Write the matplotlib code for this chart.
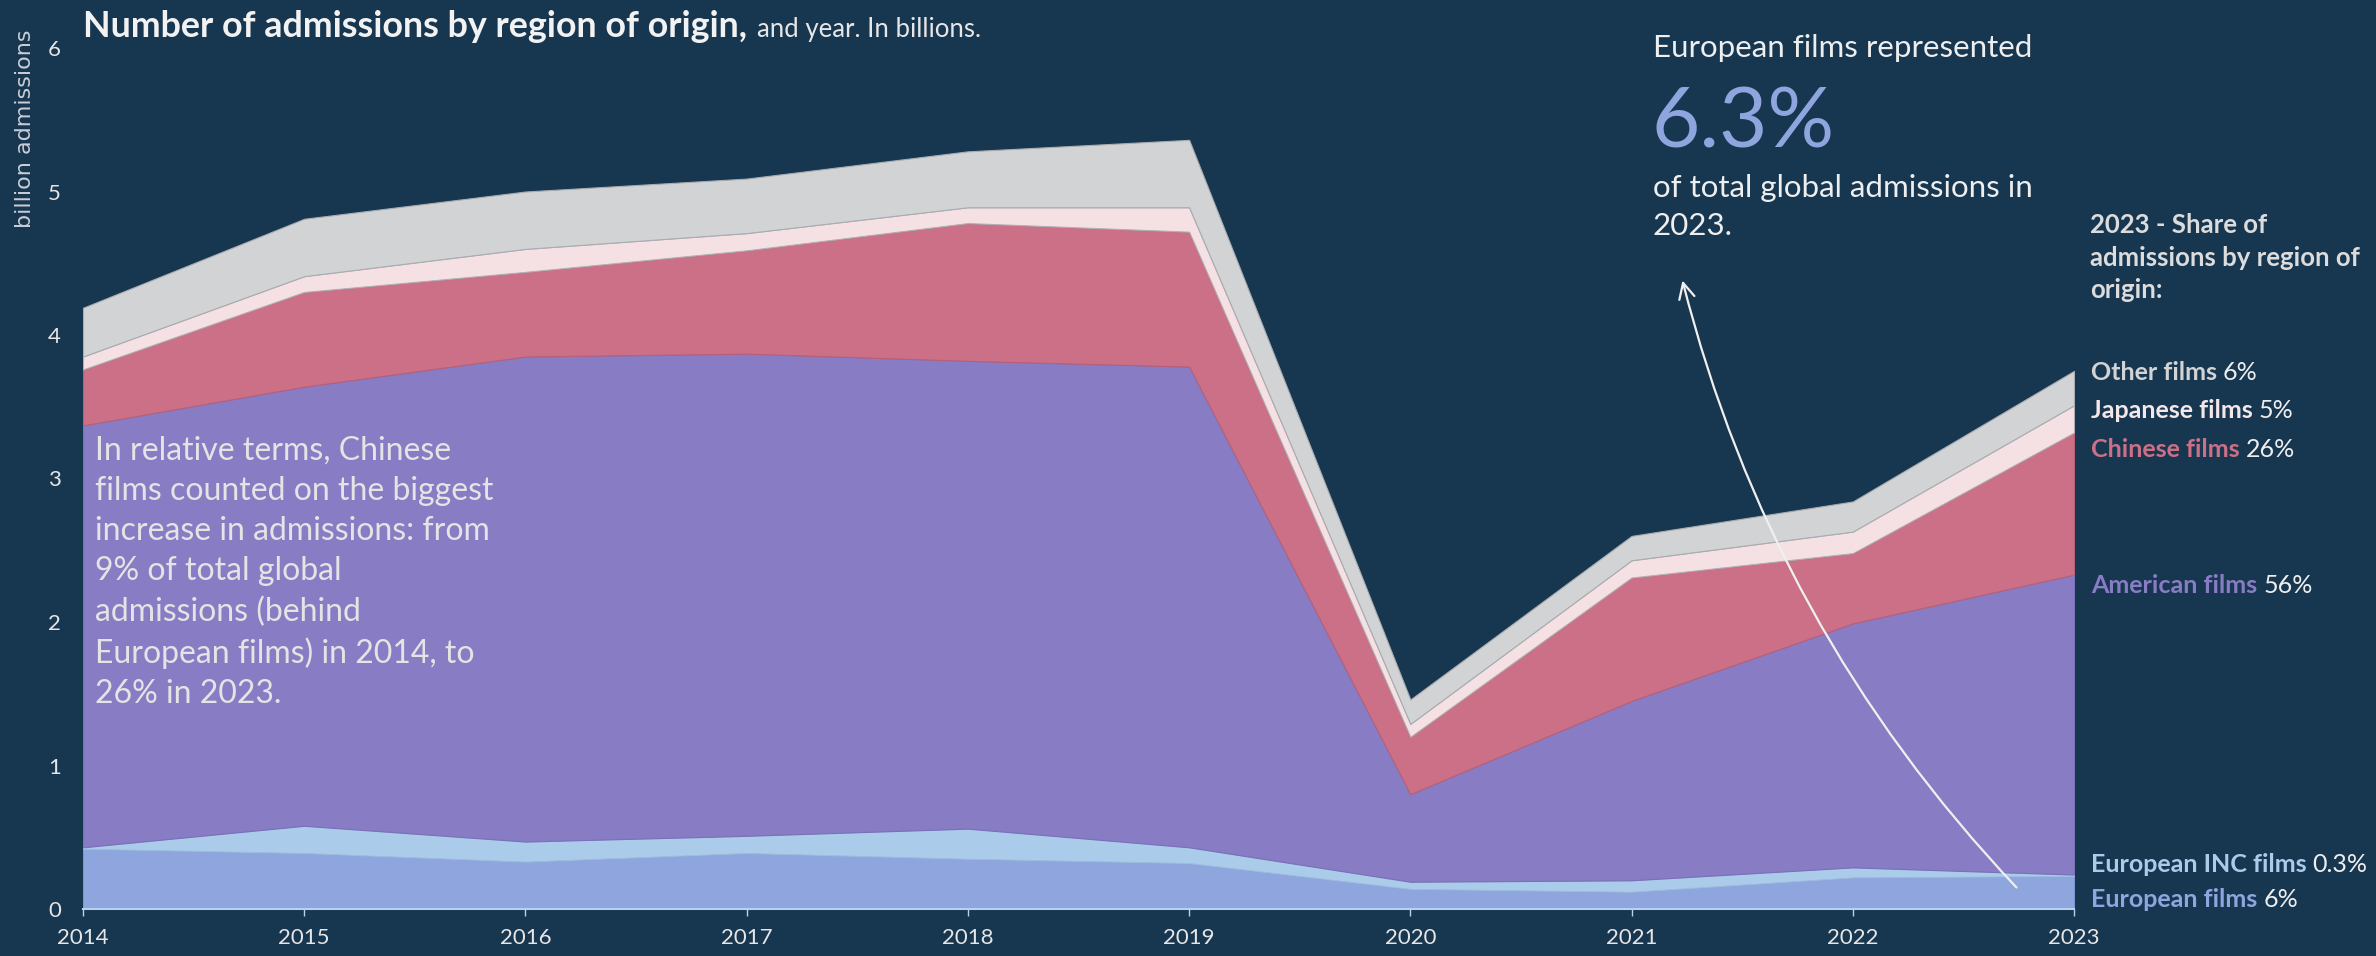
import matplotlib
matplotlib.use('Agg')
import matplotlib.pyplot as plt
import numpy as np

# Data (billions of admissions)
years = [2014, 2015, 2016, 2017, 2018, 2019, 2020, 2021, 2022, 2023]
european = [0.42, 0.39, 0.33, 0.39, 0.35, 0.32, 0.14, 0.12, 0.22, 0.23]
european_inc = [0.01, 0.19, 0.14, 0.12, 0.21, 0.11, 0.05, 0.08, 0.07, 0.01]
american = [2.94, 3.06, 3.38, 3.36, 3.26, 3.35, 0.61, 1.25, 1.70, 2.09]
chinese = [0.39, 0.66, 0.59, 0.72, 0.96, 0.94, 0.40, 0.86, 0.49, 0.99]
japanese = [0.09, 0.11, 0.16, 0.12, 0.11, 0.17, 0.09, 0.12, 0.15, 0.19]
other = [0.34, 0.40, 0.40, 0.38, 0.39, 0.47, 0.17, 0.17, 0.21, 0.24]

series_names = ['European films', 'European INC films', 'American films',
                'Chinese films', 'Japanese films', 'Other films']
share_2023 = ['6%', '0.3%', '56%', '26%', '5%', '6%']

colors = ['#8fa5de', '#abcbeb', '#887dc4', '#cb7086', '#f5e0e4', '#d2d3d5']
edge_colors = ['#7f95d0', '#9dbde0', '#7a70b8', '#b8607a', '#b0b0b4', '#a9acb0']
label_colors = ['#8fa5de', '#abcbeb', '#887dc4', '#cb7086', '#f5e6e9', '#d2d3d5']

BG = '#173650'
W, H = 2376, 956

plt.rcParams['font.family'] = ['Lato', 'DejaVu Sans']

fig = plt.figure(figsize=(W / 100, H / 100), dpi=100, facecolor=BG)
ax = fig.add_axes([83 / W, 1 - 909 / H, (2074 - 83) / W, (909 - 48) / H])
ax.set_facecolor(BG)

polys = ax.stackplot(years, european, european_inc, american, chinese, japanese, other,
                     colors=colors)
for p, ec in zip(polys, edge_colors):
    p.set_edgecolor(ec)
    p.set_linewidth(0.8)

ax.set_xlim(2014, 2023)
ax.set_ylim(0, 6)
ax.set_xticks(years)
ax.set_yticks(range(7))
for s in ['top', 'right', 'left']:
    ax.spines[s].set_visible(False)
ax.spines['bottom'].set_color('#b5d3f0')
ax.spines['bottom'].set_linewidth(1.5)
ax.tick_params(axis='x', colors='#b5d3f0', length=5, width=1, pad=9, labelsize=16,
               labelcolor='#e6e6e6')
ax.tick_params(axis='y', length=0, pad=16, labelsize=16, labelcolor='#e6e6e6')


def px(x, y):
    return x / W, 1 - y / H


# y axis label
fig.text(*px(25, 30), 'billion admissions', rotation=90, ha='center', va='top',
         fontsize=16, color='#c9ced6', family='DejaVu Sans')

# title
fig.canvas.draw()
r = fig.canvas.get_renderer()
t1 = fig.text(*px(83, 37), 'Number of admissions by region of origin,', fontsize=25.8,
              fontweight='bold', color='#f2f2f2', va='baseline')
bb = t1.get_window_extent(r)
fig.text(bb.x1 / W + 10 / W, 1 - 37 / H, 'and year. In billions.', fontsize=18.5,
         color='#e6e6e6', va='baseline')

# left comment
ax.text(2014 + 12 / 221.2, (909 - 436) / 143.5,
        'In relative terms, Chinese\nfilms counted on the biggest\nincrease in admissions: from\n'
        '9% of total global\nadmissions (behind\nEuropean films) in 2014, to\n26% in 2023.',
        fontsize=23, color='#e4e4e4', va='top', ha='left', linespacing=1.42)

# European share callout
fig.text(*px(1653, 57), 'European films represented', fontsize=22.5, color='#eeeeee',
         va='baseline')
fig.text(*px(1652, 147), '6.3%', fontsize=60, color='#8fa5de', va='baseline')
for line, yb in zip(['of total global admissions in', '2023.'], [197, 235]):
    fig.text(*px(1653, yb), line, fontsize=22.5, color='#eeeeee', va='baseline')

ax.annotate('', xy=(2021.23, 4.38), xytext=(2022.74, 0.15),
            arrowprops=dict(arrowstyle='->', color='#f0f0f0', lw=1.6,
                            connectionstyle='arc3,rad=-0.13', shrinkA=0, shrinkB=0,
                            mutation_scale=28))

# right side legend
for line, yb in zip(['2023 - Share of', 'admissions by region of', 'origin:'],
                    [233, 266, 298]):
    fig.text(*px(2090, yb), line, fontsize=18.5, fontweight='bold', color='#dcdcdc',
             va='baseline')

label_baselines = [907, 872, 593, 457, 418, 380]
for name, share, col, yb in zip(series_names, share_2023, label_colors, label_baselines):
    tn = fig.text(*px(2091, yb), name, fontsize=18, fontweight='bold', color=col,
                  va='baseline')
    bb = tn.get_window_extent(r)
    fig.text(bb.x1 / W + 6 / W, 1 - yb / H, share, fontsize=18, color='#eeeeee',
             va='baseline')

fig.savefig('out.png', dpi=100, facecolor=BG)
